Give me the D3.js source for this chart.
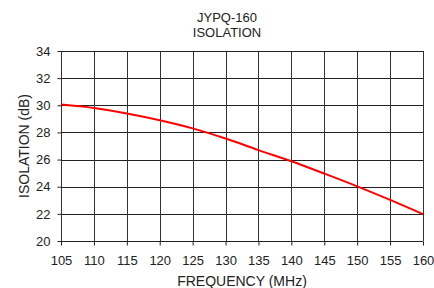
<!DOCTYPE html>
<html>
<head>
<meta charset="utf-8">
<script src="https://cdn.jsdelivr.net/npm/d3@7"></script>
<style>
  body { margin: 0; background: #fff; }
  text { font-family: "Liberation Sans", Arial, sans-serif; fill: #222; }
</style>
</head>
<body>
<script>
// values
const freq = [105, 110, 115, 120, 125, 130, 135, 140, 145, 150, 155, 160];
const isolation = [30.05, 29.8, 29.4, 28.9, 28.3, 27.55, 26.7, 25.88, 24.97, 24.03, 23.03, 21.98];
const xTicks = [105, 110, 115, 120, 125, 130, 135, 140, 145, 150, 155, 160];
const yTicks = [20, 22, 24, 26, 28, 30, 32, 34];

const width = 434, height = 288;
const margin = {top: 51, right: 11, bottom: 47, left: 61};

const svg = d3.select("body").append("svg")
  .attr("width", width)
  .attr("height", height);

const x = d3.scaleLinear().domain([105, 160]).range([margin.left, width - margin.right]);
const y = d3.scaleLinear().domain([20, 34]).range([height - margin.bottom, margin.top]);

// grid
const grid = svg.append("g");
grid.selectAll(".h").data(yTicks).enter().append("line")
  .attr("x1", x(105)).attr("x2", x(160))
  .attr("y1", d => Math.round(y(d)) + 0.5).attr("y2", d => Math.round(y(d)) + 0.5)
  .attr("stroke", "#222");
grid.selectAll(".v").data(xTicks).enter().append("line")
  .attr("x1", d => Math.round(x(d)) + 0.5).attr("x2", d => Math.round(x(d)) + 0.5)
  .attr("y1", y(34)).attr("y2", y(20))
  .attr("stroke", "#333");

// axes
const yAxis = svg.append("g").attr("transform", `translate(${Math.round(x(105)) + 0.5},0)`)
  .call(d3.axisLeft(y).tickValues(yTicks).tickSize(4).tickPadding(7));
const xAxis = svg.append("g").attr("transform", `translate(0,${Math.round(y(20)) + 0.5})`)
  .call(d3.axisBottom(x).tickValues(xTicks).tickSize(4).tickPadding(10));
[xAxis, yAxis].forEach(a => {
  a.selectAll(".tick line").attr("stroke", "#222");
  a.selectAll(".tick text").style("font-family", "Liberation Sans, Arial, sans-serif")
    .style("font-size", "13px").attr("fill", "#222");
});
yAxis.select(".domain").remove();
xAxis.select(".domain").remove();

// curve
svg.append("path")
  .datum(freq.map((f, i) => [f, isolation[i]]))
  .attr("fill", "none")
  .attr("stroke", "#f00")
  .attr("stroke-width", 2)
  .attr("d", d3.line().x(d => x(d[0])).y(d => y(d[1])).curve(d3.curveMonotoneX));

// titles
svg.append("text").attr("x", 227).attr("y", 22).attr("text-anchor", "middle")
  .style("font-size", "13px").text("JYPQ-160");
svg.append("text").attr("x", 227).attr("y", 37).attr("text-anchor", "middle")
  .style("font-size", "13px").text("ISOLATION");
svg.append("text").attr("x", 242).attr("y", 286).attr("text-anchor", "middle")
  .style("font-size", "14px").text("FREQUENCY (MHz)");
svg.append("text").attr("transform", `translate(29,${(y(20) + y(34)) / 2}) rotate(-90)`)
  .attr("text-anchor", "middle").style("font-size", "14px").text("ISOLATION (dB)");
</script>
</body>
</html>
